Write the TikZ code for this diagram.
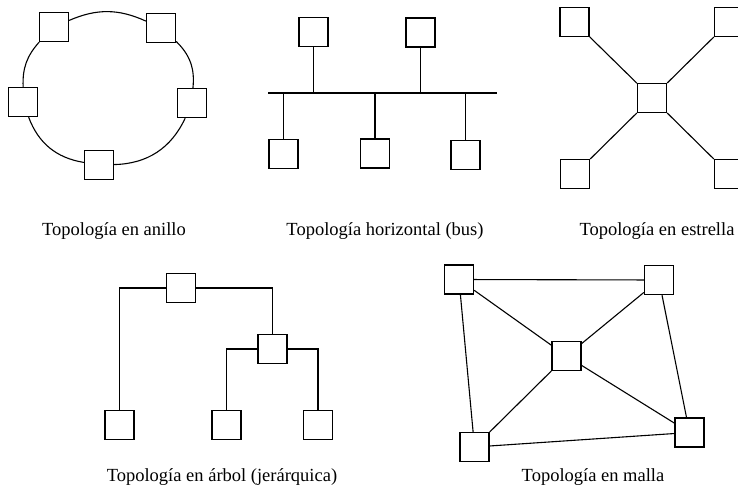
\documentclass[tikz,border=0pt]{standalone}
\usepackage{fontspec}
\setmainfont{Liberation Serif}
\usepackage{tikz}
\usetikzlibrary{positioning,calc}

\begin{document}
\begin{tikzpicture}[x=1pt,y=1pt,
    pc/.style={draw, line width=1.3pt, fill=white, minimum size=29pt, inner sep=0pt},
    wire/.style={line width=1.1pt},
    caption/.style={anchor=base, font=\fontsize{18.5}{20}\selectfont}]
        \useasboundingbox (0,0) rectangle (738,-490);
        \clip (0,0) rectangle (738,-490);

        % anillo
        \node[pc] (r1) at (54,-27) {};
        \node[pc] (r2) at (161,-28) {};
        \node[pc] (r3) at (192,-103) {};
        \node[pc] (r4) at (99,-165) {};
        \node[pc] (r5) at (23,-102) {};
        \draw[wire] (r1) to[bend left=24] (r2);
        \draw[wire] (r2) to[bend left=26] (r3);
        \draw[wire] (r3) to[bend left=32] (r4);
        \draw[wire] (r4) to[bend left=30] (r5);
        \draw[wire] (r5) to[bend left=22] (r1);
        \node[caption] (capring) at (114,-235) {Topología en anillo};

        % bus
        \coordinate (busL) at (268,-93);
        \coordinate (busR) at (497,-93);
        \draw[wire] (busL) -- (busR);
        \node[pc] (b1) at (313.5,-32) {};
        \node[pc] (b2) at (420.5,-32.5) {};
        \node[pc] (b3) at (283.5,-154) {};
        \node[pc] (b4) at (375,-153.5) {};
        \node[pc] (b5) at (465.5,-155) {};
        \foreach \b in {b1,b2,b3,b4,b5}
            \draw[wire] (\b) -- (\b |- busL);
        \node[caption] (capbus) at (385,-235) {Topología horizontal (bus)};

        % estrella
        \node[pc] (s0) at (652,-98) {};
        \node[pc] (s1) at (574.5,-22) {};
        \node[pc] (s2) at (729,-22) {};
        \node[pc] (s3) at (575,-174) {};
        \node[pc] (s4) at (729,-174) {};
        \foreach \s in {s1,s2,s3,s4}
            \draw[wire] (s0) -- (\s);
        \node[caption] (capstar) at (657,-235) {Topología en estrella};

        % arbol
        \node[pc] (t1) at (181,-288) {};
        \node[pc] (t2) at (272.5,-349) {};
        \node[pc] (t3) at (119.5,-425) {};
        \node[pc] (t4) at (226.5,-425) {};
        \node[pc] (t5) at (318,-425) {};
        \draw[wire] (t1) -| (t3);
        \draw[wire] (t1) -| (t2);
        \draw[wire] (t2) -| (t4);
        \draw[wire] (t2) -| (t5);
        \node[caption] (captree) at (222,-481) {Topología en árbol (jerárquica)};

        % malla
        \node[pc] (m0) at (566.5,-356) {};
        \node[pc] (m1) at (459,-279.5) {};
        \node[pc] (m2) at (659,-280) {};
        \node[pc] (m3) at (474.5,-447) {};
        \node[pc] (m4) at (689.5,-432.5) {};
        \draw[wire] (m1) -- (m2);
        \draw[wire] (m1) -- (m3);
        \draw[wire] (m2) -- (m4);
        \draw[wire] (m3) -- (m4);
        \foreach \m in {m1,m2,m3,m4}
            \draw[wire] (m0) -- (\m);
        \node[caption] (capmesh) at (593,-481) {Topología en malla};
\end{tikzpicture}
\end{document}
